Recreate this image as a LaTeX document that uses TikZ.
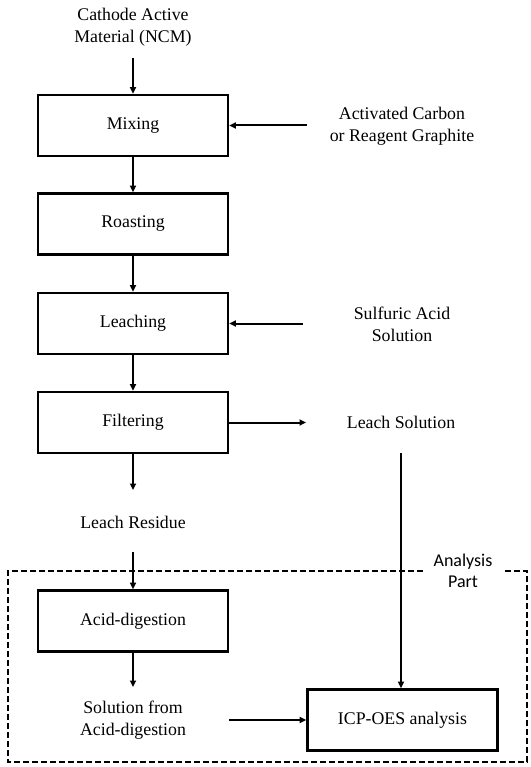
\documentclass[tikz,border=0pt]{standalone}
\usepackage{fontspec}
\setmainfont{Liberation Serif}
\newfontfamily\labelfont{Carlito}
\usetikzlibrary{arrows.meta}

\begin{document}
\begin{tikzpicture}[x=1pt,y=1pt,
  every node/.style={font=\fontsize{17.8}{22}\selectfont, align=center, inner sep=0pt},
  stepbox/.style={draw, line width=2.6pt, minimum width=190pt, minimum height=61pt},
  tip/.style={-{Triangle[length=6.5pt,width=6pt]}},
  arr/.style={line width=2pt, tip},
  zone/.style={line width=2pt, dash pattern=on 6pt off 3pt}]
  \useasboundingbox (0,0) rectangle (530,-767);

  % main process chain
  \node (cam) at (133,-27) {Cathode Active\\Material (NCM)};
  \node[stepbox] (mix)  at (133,-125.5) {Mixing};
  \node[stepbox] (roast) at (133,-224) {Roasting};
  \node[stepbox] (leach) at (133,-323.5) {Leaching};
  \node[stepbox] (filt) at (133,-422.5) {Filtering};
  \node (res) at (133,-522) {Leach Residue};
  \node[stepbox] (dig) at (133,-621) {Acid-digestion};
  \node (dsol) at (133,-720) {Solution from\\Acid-digestion};

  % side inputs and outputs
  \node (carbon) at (402,-126) {Activated Carbon\\or Reagent Graphite};
  \node (acid) at (402,-324) {Sulfuric Acid\\Solution};
  \node (lsol) at (401,-422) {Leach Solution};
  \node[stepbox] (icp) at (402.5,-720) {ICP-OES analysis};

  % free ends of the connectors
  \coordinate (camout) at (133,-58);
  \coordinate (carbonout) at (307,-125.5);
  \coordinate (acidout) at (303,-323.5);
  \coordinate (lsolin) at (306,-422.5);
  \coordinate (lsolout) at (401,-453);
  \coordinate (resin) at (133,-490);
  \coordinate (resout) at (133,-552);
  \coordinate (dsolin) at (133,-687);
  \coordinate (dsolout) at (229,-720);

  % analysis region
  \node[font=\labelfont\fontsize{18}{21}\selectfont] (part) at (463,-571) {Analysis\\Part};
  \draw[zone] (423,-571) -- (8,-571) -- (8,-762) -- (527,-762) -- (527,-571) -- (503,-571);

  % connectors
  \draw[arr] (camout) -- (mix);
  \draw[arr] (mix) -- (roast);
  \draw[arr] (roast) -- (leach);
  \draw[arr] (leach) -- (filt);
  \draw[arr] (filt) -- (resin);
  \draw[arr] (resout) -- (dig);
  \draw[arr] (dig) -- (dsolin);
  \draw[arr] (carbonout) -- (mix.east);
  \draw[arr] (acidout) -- (leach.east);
  \draw[arr] (filt.east) -- (lsolin);
  \draw[arr] (lsolout) -- (lsolout |- icp.north);
  \draw[arr] (dsolout) -- (icp.west);
\end{tikzpicture}
\end{document}
